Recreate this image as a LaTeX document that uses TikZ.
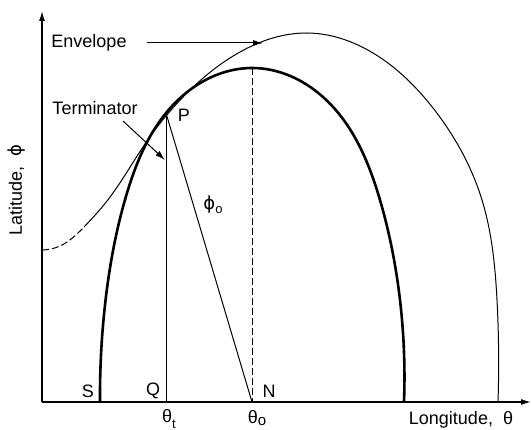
\documentclass[tikz,border=0pt]{standalone}
\usepackage{fontspec}
\setmainfont{Liberation Sans}
\newfontfamily\dvfont{DejaVu Sans}
\usetikzlibrary{arrows.meta,hobby}
\begin{document}
\begin{tikzpicture}[x=1pt,y=-1pt,
  lbl/.style={font=\fontsize{18}{21}\selectfont, inner sep=0pt},
  axisline/.style={line width=1.4pt, -{Latex[length=10pt,width=6pt]}},
  thincurve/.style={line width=1pt},
  thickcurve/.style={line width=2.6pt},
  pointer/.style={line width=1pt, -{Latex[length=10pt,width=6pt]}},
  dashline/.style={line width=1pt, dash pattern=on 7pt off 3pt}]
\useasboundingbox (0,0) rectangle (531,430);
% key points
\coordinate (O) at (42,402);
\coordinate (ytop) at (42,11);
\coordinate (xend) at (531,402);
\coordinate (P) at (166,113);
\coordinate (Q) at (166,402);
\coordinate (N) at (252,402);
\coordinate (peak) at (252,68);
\coordinate (envstart) at (42,250);
\coordinate (envjoin) at (84,227);
% axes
\draw[axisline] (O) -- (ytop);
\draw[axisline] (O) -- (xend);
% terminator (thick)
\draw[thickcurve, use Hobby shortcut] (100,402) .. (105,305) .. (127,193) .. (P) .. (peak) .. (323,97) .. (380,200) .. (400,300) .. (404,402);
% envelope (thin): dashed left part, solid remainder
\begin{scope}
  \clip (0,0) rectangle (84,430);
  \draw[dashline, use Hobby shortcut] (envstart) .. (60,246) .. (envjoin) .. (107,201) .. (147,141) .. (186,94) .. (240,52) .. (307,33) .. (373,53) .. (433,108) .. (482,200) .. (497,300) .. (498,402);
\end{scope}
\begin{scope}
  \clip (84,0) rectangle (531,430);
  \draw[thincurve, use Hobby shortcut] (envstart) .. (60,246) .. (envjoin) .. (107,201) .. (147,141) .. (186,94) .. (240,52) .. (307,33) .. (373,53) .. (433,108) .. (482,200) .. (497,300) .. (498,402);
\end{scope}
% construction lines
\draw[thincurve] (P) -- (Q);
\draw[thincurve] (P) -- (N);
\draw[dashline] (peak) -- (N);
% labels and pointers
\node[lbl] (envtxt) at (89,43) {Envelope};
\coordinate (envtip) at (263,43);
\draw[pointer] (envtxt.east) ++(20,0) -- (envtip);
\node[lbl] (termtxt) at (95,108) {Terminator};
\coordinate (termtip) at (165,160);
\draw[pointer] (123,121) -- (termtip);
\node[lbl] (Plbl) at (184,115) {P};
\node[lbl] (phio) at (213,205) {{\dvfont ϕ}\raisebox{-0.45ex}{\fontsize{13}{14}\selectfont o}};
\node[lbl] (Slbl) at (88,391) {S};
\node[lbl] (Qlbl) at (153,391) {Q};
\node[lbl] (Nlbl) at (269,391) {N};
\node[lbl] (thetat) at (169,419) {θ\raisebox{-0.6ex}{\fontsize{13}{14}\selectfont t}};
\node[lbl] (thetao) at (257,418) {θ\raisebox{-0.3ex}{\fontsize{15}{15}\selectfont o}};
\node[lbl, rotate=90] (latlbl) at (17,190) {Latitude,\ \ {\dvfont ϕ}};
\node[lbl] (lonlbl) at (461,420) {Longitude,\ \ θ};
\end{tikzpicture}
\end{document}
